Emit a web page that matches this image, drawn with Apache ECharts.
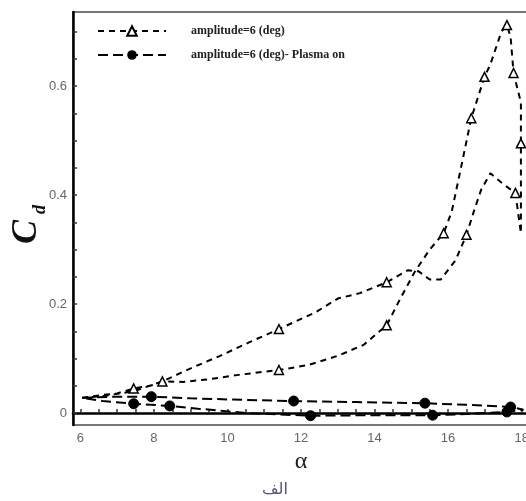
<!DOCTYPE html>
<html><head><meta charset="utf-8">
<script src="https://cdn.jsdelivr.net/npm/echarts@6/dist/echarts.min.js"></script>
<style>html,body{margin:0;padding:0;background:#fff}#c{width:526px;height:501px}</style>
</head><body><div id="c"></div>
<script>
// Series 1: amplitude=6 (deg) — hysteresis loop, in drawing order
const alpha1 = [6.05,6.6,7.0,7.45,7.9,8.23,8.8,9.5,10.3,11.4,12.2,13.0,13.7,14.33,14.7,15.1,15.5,15.88,16.1,16.35,16.63,16.99,17.15,17.3,17.45,17.6,17.7,17.78,17.98,17.98,17.98,17.98,17.83,17.5,17.15,16.9,16.7,16.5,16.2,15.8,15.5,15.2,14.9,14.33,13.6,13.0,12.4,11.4,10.6,9.8,9.0,8.23,7.45,6.6,6.05];
const cd1    = [0.028,0.033,0.036,0.045,0.05,0.058,0.057,0.062,0.07,0.079,0.088,0.105,0.125,0.161,0.21,0.26,0.30,0.33,0.37,0.45,0.541,0.617,0.64,0.67,0.70,0.712,0.69,0.624,0.57,0.495,0.42,0.33,0.404,0.42,0.44,0.41,0.37,0.327,0.28,0.245,0.245,0.26,0.262,0.24,0.22,0.21,0.185,0.154,0.13,0.105,0.082,0.058,0.04,0.031,0.028];
const mark1  = [0,0,0,1,0,1,0,0,0,1,0,0,0,1,0,0,0,1,0,0,1,1,0,0,0,1,0,1,0,1,0,0,1,0,0,0,0,1,0,0,0,0,0,1,0,0,0,1,0,0,0,0,0,0,0];
// Series 2: amplitude=6 (deg)- Plasma on
const alpha2 = [6.05,7.0,7.93,9.0,10.5,11.8,13.5,15.37,16.5,17.7,18.05,17.6,16.5,15.58,14.0,12.26,10.5,9.2,8.43,7.45,6.6,6.05];
const cd2    = [0.028,0.03,0.03,0.027,0.024,0.022,0.02,0.018,0.015,0.011,0.006,0.002,-0.002,-0.004,-0.004,-0.005,0.0,0.008,0.013,0.017,0.022,0.028];
const mark2  = [0,0,1,0,0,1,0,1,0,1,0,1,0,1,0,1,0,0,1,1,0,0];
const seriesNames = ['amplitude=6 (deg)','amplitude=6 (deg)- Plasma on'];
const xLabels = [6,8,10,12,14,16,18];
const yLabels = [0,0.2,0.4,0.6];

function build(xs, ys, ms){
  return xs.map((x,i)=> ms[i] ? {value:[x,ys[i]]} : {value:[x,ys[i]], symbol:'none'});
}
const xTicks=[]; for(let v=6; v<=18.001; v+=0.5) xTicks.push(+v.toFixed(2));
const yTicks=[]; for(let v=0; v<=0.7001; v+=0.05) yTicks.push(+v.toFixed(2));

const chart = echarts.init(document.getElementById('c'));
chart.setOption({
  animation:false,
  grid:{left:73, top:12, width:456, bottom:76, show:true, borderColor:'#777', borderWidth:2, outerBoundsMode:'none', containLabel:false},
  legend:{
    orient:'vertical', left:92, top:20, itemWidth:68, itemHeight:12, itemGap:12,
    data:seriesNames,
    textStyle:{fontFamily:'Liberation Serif', fontWeight:'bold', fontSize:12, color:'#222', padding:[0,0,0,20]}
  },
  xAxis:{
    type:'value', min:5.8, max:18.2,
    axisLine:{lineStyle:{color:'#000', width:2.5}},
    axisTick:{inside:true, length:4, customValues:xTicks, lineStyle:{color:'#333', width:1.5}},
    axisLabel:{customValues:xLabels, color:'#666', fontFamily:'Liberation Sans', fontSize:13, margin:7},
    splitLine:{show:false},
    name:'α', nameLocation:'middle', nameGap:24,
    nameTextStyle:{fontFamily:'Liberation Serif', fontSize:24, color:'#222'}
  },
  yAxis:{
    type:'value', min:-0.022, max:0.736,
    axisLine:{show:true, lineStyle:{color:'#000', width:2.5}},
    axisTick:{show:true, inside:true, length:4, customValues:yTicks, lineStyle:{color:'#333', width:1.5}},
    axisLabel:{customValues:yLabels, color:'#666', fontFamily:'Liberation Sans', fontSize:13, margin:6},
    splitLine:{show:false}
  },
  graphic:[
    {type:'text', x:9, y:244, rotation:Math.PI/2, style:{text:'C', font:'italic bold 36px "Liberation Serif"', fill:'#111'}},
    {type:'text', x:31, y:214, rotation:Math.PI/2, style:{text:'d', font:'italic bold 18px "Liberation Serif"', fill:'#111'}},
    {type:'text', x:275, y:490, style:{text:'الف', font:'16px "DejaVu Sans"', fill:'#5a5370', align:'center', verticalAlign:'middle'}}
  ],
  series:[
    {name:seriesNames[0], type:'line', data:build(alpha1,cd1,mark1),
     symbol:'triangle', symbolSize:9,
     itemStyle:{color:'#fff', borderColor:'#000', borderWidth:1.5},
     lineStyle:{color:'#000', width:2, type:[6,5]}},
    {name:seriesNames[1], type:'line', data:build(alpha2,cd2,mark2),
     symbol:'circle', symbolSize:10,
     itemStyle:{color:'#000', borderColor:'#000'},
     lineStyle:{color:'#000', width:2, type:[10,5]}}
  ]
});
</script></body></html>
